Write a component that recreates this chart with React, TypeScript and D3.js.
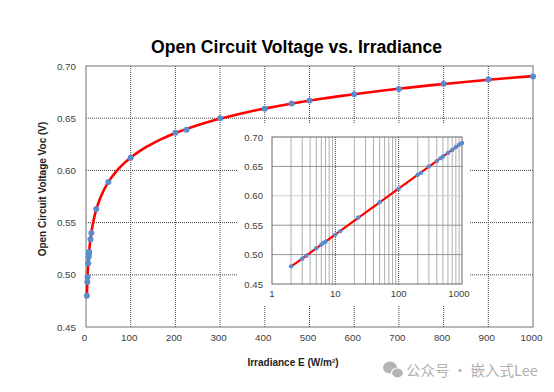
import React from "react";
import * as d3 from "d3";

const irradiance = [2, 3, 3.5, 5, 6, 6.5, 7, 10, 12, 23, 50, 100, 200, 225, 300, 400, 460, 500, 600, 700, 800, 900, 1000];
const voc = [0.480, 0.493, 0.498, 0.511, 0.517, 0.520, 0.522, 0.534, 0.540, 0.563, 0.589, 0.612, 0.636, 0.639, 0.650, 0.659, 0.664, 0.667, 0.673, 0.678, 0.683, 0.687, 0.690];
const xTicks = [0, 100, 200, 300, 400, 500, 600, 700, 800, 900, 1000];
const yTicks = [0.45, 0.5, 0.55, 0.6, 0.65, 0.7];
const logTicks = [1, 10, 100, 1000];
const title = "Open Circuit Voltage vs. Irradiance";
const xTitle = "Irradiance E (W/m²)";
const yTitle = "Open Circuit Voltage Voc (V)";

const FONT = "'Liberation Sans', Arial, sans-serif";

// least-squares logarithmic trendline derived from the data
function logFit() {
  const lx = irradiance.map((e) => Math.log(e));
  const n = lx.length;
  const mx = d3.mean(lx)!;
  const my = d3.mean(voc)!;
  let sxy = 0, sxx = 0;
  for (let i = 0; i < n; i++) {
    sxy += (lx[i] - mx) * (voc[i] - my);
    sxx += (lx[i] - mx) * (lx[i] - mx);
  }
  const b = sxy / sxx;
  const a = my - b * mx;
  return (e: number) => a + b * Math.log(e);
}

export default function App() {
  const W = 554, H = 392;
  const x = d3.scaleLinear().domain([0, 1000]).range([86, 533]);
  const y = d3.scaleLinear().domain([0.45, 0.7]).range([327, 66]);
  const lx = d3.scaleLog().domain([1, 1000]).range([272, 462]);
  const ly = d3.scaleLinear().domain([0.45, 0.7]).range([284, 137]);

  const fit = logFit();
  const eMin = d3.min(irradiance)!;
  const eMax = d3.max(irradiance)!;
  const samples = d3.range(0, 301).map((i) => eMin * Math.pow(eMax / eMin, i / 300));

  const mainLine = d3.line<number>().x((e) => x(e)).y((e) => y(fit(e)))(samples)!;
  const insetLine = d3.line<number>().x((e) => lx(e)).y((e) => ly(fit(e)))(samples)!;

  const minorLog: number[] = [];
  [1, 10, 100].forEach((d) => {
    for (let k = 2; k <= 9; k++) minorLog.push(d * k);
  });

  const [x0, x1] = x.range();
  const [yb, yt] = y.range();

  return (
    <svg width={W} height={H} style={{ position: "absolute", left: 0, top: 0, background: "#fff" }} fontFamily={FONT}>
      <rect x={0} y={0} width={W} height={H} fill="#fff" />
      <text x={296.5} y={52.5} textAnchor="middle" fontSize={17.6} fontWeight="bold" fill="#000">{title}</text>

      {/* main grid */}
      {xTicks.slice(1, -1).map((t) => (
        <line key={"gx" + t} x1={x(t)} x2={x(t)} y1={yt} y2={yb} stroke="#444" strokeWidth={1} strokeDasharray="1,1" />
      ))}
      {yTicks.slice(1, -1).map((t) => (
        <line key={"gy" + t} x1={x0} x2={x1} y1={y(t)} y2={y(t)} stroke="#444" strokeWidth={1} strokeDasharray="1,1" />
      ))}
      <rect x={x0} y={yt} width={x1 - x0} height={yb - yt} fill="none" stroke="#707070" strokeWidth={1} />

      {/* main tick labels */}
      {yTicks.map((t) => (
        <text key={"yl" + t} x={76} y={y(t) + 3.5} textAnchor="end" fontSize={9.8} fill="#404040">{t.toFixed(2)}</text>
      ))}
      {xTicks.map((t) => (
        <text key={"xl" + t} x={x(t) - 1.5} y={341} textAnchor="middle" fontSize={9.8} fill="#404040">{t}</text>
      ))}
      <text x={293} y={366} textAnchor="middle" fontSize={10} fontWeight="bold" fill="#222">{xTitle}</text>
      <text transform={`translate(46,189) rotate(-90)`} textAnchor="middle" fontSize={10} fontWeight="bold" fill="#222">{yTitle}</text>

      {/* main series */}
      <path d={mainLine} fill="none" stroke="#ff0000" strokeWidth={2.6} />
      {irradiance.map((e, i) => (
        <circle key={"p" + i} cx={x(e)} cy={y(voc[i])} r={3} fill="#5a8ccc" />
      ))}

      {/* inset */}
      <rect x={238} y={123} width={232} height={182} fill="#fff" />
      {minorLog.map((t) => (
        <line key={"lm" + t} x1={lx(t)} x2={lx(t)} y1={ly(0.7)} y2={ly(0.45)} stroke={t === 10 || t === 100 ? "#444" : "#9a9a9a"} strokeWidth={0.8} />
      ))}
      {[10, 100].map((t) => (
        <line key={"ld" + t} x1={lx(t)} x2={lx(t)} y1={ly(0.7)} y2={ly(0.45)} stroke="#333" strokeWidth={1} strokeDasharray="1,1" />
      ))}
      {yTicks.slice(1, -1).map((t) => (
        <line key={"lgy" + t} x1={lx(1)} x2={lx(1000)} y1={ly(t)} y2={ly(t)} stroke={t === 0.6 ? "#c8c8c8" : "#8a8a8a"} strokeWidth={0.9} />
      ))}
      <rect x={lx(1)} y={ly(0.7)} width={lx(1000) - lx(1)} height={ly(0.45) - ly(0.7)} fill="none" stroke="#666" strokeWidth={1} />
      {yTicks.map((t) => (
        <text key={"iyl" + t} x={263} y={ly(t) + 3.5} textAnchor="end" fontSize={9.6} fill="#404040">{t.toFixed(2)}</text>
      ))}
      {logTicks.map((t) => (
        <text key={"ixl" + t} x={t === 1000 ? lx(t) - 3 : lx(t)} y={297} textAnchor="middle" fontSize={9.6} fill="#404040">{t}</text>
      ))}
      <path d={insetLine} fill="none" stroke="#ff0000" strokeWidth={2.2} />
      {irradiance.map((e, i) => (
        <circle key={"ip" + i} cx={lx(e)} cy={ly(voc[i])} r={2.2} fill="#5a8ccc" />
      ))}

      {/* watermark */}
      <g fill="#b4b4b4">
        <ellipse cx={390} cy={367.5} rx={7} ry={6} />
        <ellipse cx={397.5} cy={373} rx={6} ry={5} stroke="#fff" strokeWidth={1.2} />
      </g>
      <text x={406} y={375.5} fontSize={14.5} fill="#b0b0b0" fontFamily="'Noto Sans CJK SC', sans-serif">公众号 · 嵌入式Lee</text>
    </svg>
  );
}
